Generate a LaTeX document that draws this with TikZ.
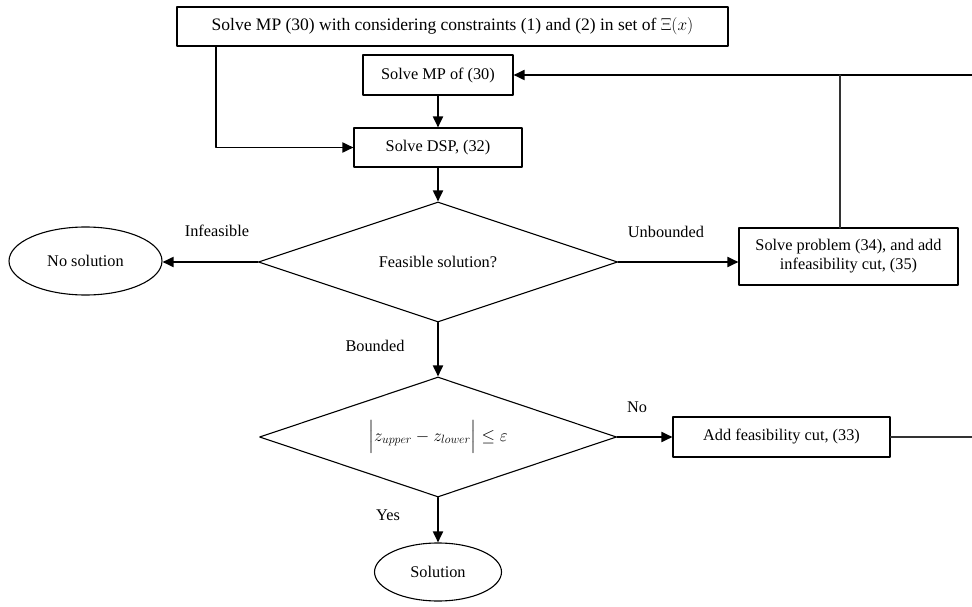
\documentclass[tikz,border=0pt]{standalone}
\usepackage{amsmath}
\usepackage{amssymb}
\usepackage{fontspec}
\setmainfont{Liberation Serif}
\usetikzlibrary{arrows.meta,shapes.geometric}

\begin{document}
\begin{tikzpicture}
			[line cap=round,line join=round,>={Triangle[length=11pt,width=10pt]},x=1pt,y=-1pt,
			font=\fontsize{16.3}{19}\selectfont,
			procbox/.style={draw,line width=1.1pt,rectangle,inner sep=2pt,align=center},
			testbox/.style={draw,line width=1.1pt,diamond,aspect=3,inner sep=0pt},
			endbox/.style={draw,line width=1.1pt,ellipse,inner sep=0pt},
			flow/.style={->,line width=1.8pt},
			plainline/.style={line width=1.4pt,draw=black!80}]
			\useasboundingbox (0,0) rectangle (972,607);
			\node[procbox,minimum width=551pt,minimum height=39pt,font=\fontsize{17.5}{20}\selectfont] (master) at (452.5,26.5) {Solve MP (30) with considering constraints (1) and (2) in set of $\Xi(x)$};
			\node[procbox,minimum width=150pt,minimum height=40pt] (mp) at (438,75) {Solve MP of (30)};
			\node[procbox,minimum width=168pt,minimum height=39pt] (dsp) at (438,147.5) {Solve DSP, (32)};
			\node[testbox,minimum width=359pt,minimum height=120pt] (feas) at (438,262) {Feasible solution?};
			\node[endbox,minimum width=153pt,minimum height=68pt] (nosol) at (85.5,261) {No solution};
			\node[procbox,minimum width=219pt,minimum height=57pt] (infcut) at (848.5,256.5) {Solve problem (34), and add\\infeasibility cut, (35)};
			\node[testbox,minimum width=357pt,minimum height=120pt,font=\fontsize{18}{21}\selectfont] (gap) at (438,437) {$\Bigl|z_{upper}-z_{lower}\Bigr|\le\varepsilon$};
			\node[procbox,minimum width=217pt,minimum height=40pt] (feascut) at (781.5,437) {Add feasibility cut, (33)};
			\node[endbox,minimum width=127pt,minimum height=58pt] (sol) at (438,572) {Solution};
			\coordinate (masterdrop) at (216,46);
			\coordinate (topright) at (972,75);
			\coordinate (lowright) at (972,437);
			\coordinate (infcuttop) at (840,228);
			% connectors
			\draw[flow] (masterdrop) |- (dsp.west);
			\draw[flow] (mp.south) -- (dsp.north);
			\draw[flow] (dsp.south) -- (feas.north);
			\draw[flow] (feas.west) -- (feas.west -| nosol.east);
			\draw[flow] (feas.east) -- (feas.east -| infcut.west);
			\draw[flow] (feas.south) -- (gap.north);
			\draw[flow] (gap.east) -- (feascut.west);
			\draw[flow] (gap.south) -- (sol.north);
			\draw[flow] (topright) -- (mp.east);
			\draw[plainline] (infcuttop) -- (infcuttop |- topright);
			\draw[plainline] (feascut.east) -- (lowright);
			% labels
			\node (lblinf) at (217,231) {Infeasible};
			\node (lblunb) at (666,232) {Unbounded};
			\node (lblbnd) at (375,346) {Bounded};
			\node (lblno) at (637,407) {No};
			\node (lblyes) at (388,515) {Yes};
		\end{tikzpicture}
\end{document}
